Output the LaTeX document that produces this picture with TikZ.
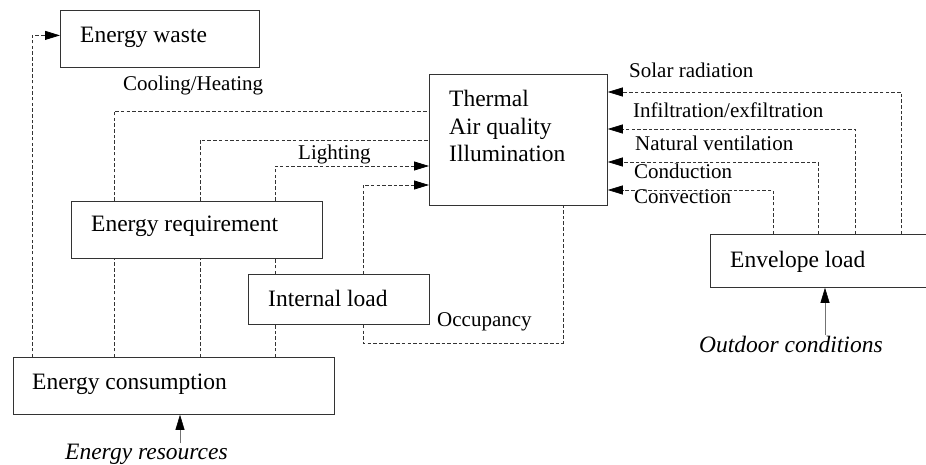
\documentclass[tikz,border=0pt]{standalone}
\usepackage{fontspec}
\setmainfont{Liberation Serif}
\usetikzlibrary{arrows.meta}
\begin{document}
\begin{tikzpicture}[x=1pt,y=-1pt,
  boxs/.style={draw=black!80,line width=0.8pt,inner sep=0pt},
  btext/.style={anchor=base west,inner sep=0pt,font=\fontsize{23.5}{27.5}\selectfont,align=left},
  ltext/.style={anchor=base west,inner sep=0pt,font=\fontsize{21}{25}\selectfont},
  itext/.style={anchor=base west,inner sep=0pt,font=\fontsize{23.5}{27.5}\selectfont\itshape},
  dl/.style={draw=black!80,line width=0.75pt,dash pattern=on 3.5pt off 2.2pt},
  tip/.style={-{Triangle[length=15pt,width=9pt,black]}},
  sl/.style={draw=black!55,line width=0.6pt}]
\useasboundingbox (0,0) rectangle (926,465);
% boxes
\node[boxs,anchor=north west,minimum width=199pt,minimum height=57pt] (waste) at (60,10) {};
\node[boxs,anchor=north west,minimum width=178pt,minimum height=131pt] (thermal) at (429,74) {};
\node[boxs,anchor=north west,minimum width=251pt,minimum height=57pt] (req) at (71,201) {};
\node[boxs,anchor=north west,minimum width=181pt,minimum height=50pt] (int) at (248,274) {};
\node[boxs,anchor=north west,minimum width=321pt,minimum height=57pt] (cons) at (13,357) {};
\node[boxs,anchor=north west,minimum width=240pt,minimum height=53pt] (env) at (710,234) {};
% box texts
\node[btext] (wastet) at (80,43) {Energy waste};
\node[btext] (thermalt) at (449,162) {Thermal\\Air quality\\Illumination};
\node[btext] (reqt) at (91,232) {Energy requirement};
\node[btext] (intt) at (268,306) {Internal load};
\node[btext] (const) at (32,389) {Energy consumption};
\node[btext] (envt) at (730,267) {Envelope load};
% labels
\node[ltext] (lcool) at (123,91) {Cooling/Heating};
\node[ltext] (llight) at (298,160) {Lighting};
\node[ltext] (locc) at (437,326) {Occupancy};
\node[ltext] (lsolar) at (629,78) {Solar radiation};
\node[ltext] (linf) at (633,118) {Infiltration/exfiltration};
\node[ltext] (lnat) at (635,151) {Natural ventilation};
\node[ltext] (lcond) at (634,179) {Conduction};
\node[ltext] (lconv) at (634,204) {Convection};
\node[itext] (lres) at (65,459) {Energy resources};
\node[itext] (lout) at (699,352) {Outdoor conditions};
% left side connectors
\draw[dl,tip] ([xshift=19pt]cons.north west) |- ([yshift=3.5pt]waste.west);
\draw[dl] ([xshift=101pt]cons.north west) -- ([xshift=43pt]req.south west);
\draw[dl] ([xshift=43pt]req.north west) |- ([yshift=-37pt]thermal.north west);
\draw[dl] ([xshift=187pt]cons.north west) -- ([xshift=129pt]req.south west);
\draw[dl] ([xshift=129pt]req.north west) |- ([yshift=-66pt]thermal.north west);
\draw[dl] ([xshift=262pt]cons.north west) -- ([xshift=27pt]int.south west);
\draw[dl] ([xshift=27pt]int.north west) -- ([xshift=204pt]req.south west);
\draw[dl,tip] ([xshift=204pt]req.north west) |- ([yshift=-92pt]thermal.north west);
\draw[dl,tip] ([xshift=115pt]int.north west) |- ([yshift=-111pt]thermal.north west);
\coordinate (occ) at (563,343);
\draw[dl] ([xshift=115pt]int.south west) |- (occ) -- (occ |- thermal.south);
% right side connectors
\draw[dl,tip] ([xshift=63pt]env.north west) |- ([yshift=-116pt]thermal.north east);
\draw[dl,tip] ([xshift=108pt]env.north west) |- ([yshift=-88pt]thermal.north east);
\draw[dl,tip] ([xshift=145pt]env.north west) |- ([yshift=-55pt]thermal.north east);
\draw[dl,tip] ([xshift=191pt]env.north west) |- ([yshift=-18pt]thermal.north east);
% inputs
\draw[sl,tip] (lres.north -| 180,0) -- (cons.south -| 180,0);
\draw[sl,tip] (lout.north -| 825,0) -- (env.south -| 825,0);
\end{tikzpicture}
\end{document}
